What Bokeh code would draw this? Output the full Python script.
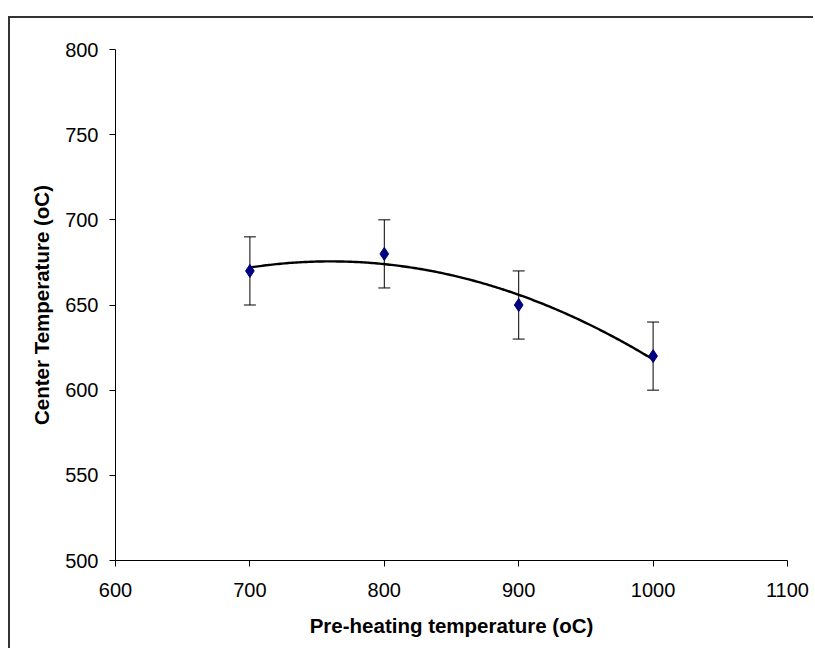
import numpy as np
from bokeh.plotting import figure
from bokeh.models import ColumnDataSource, Whisker, TeeHead, Spacer, FixedTicker
from bokeh.layouts import column, row
from bokeh.embed import file_html
from bokeh.resources import INLINE

# Data
preheat = [700, 800, 900, 1000]
center_temp = [670, 680, 650, 620]
err = [20, 20, 20, 20]
x_ticks = [600, 700, 800, 900, 1000, 1100]
y_ticks = [500, 550, 600, 650, 700, 750, 800]

upper = [v + e for v, e in zip(center_temp, err)]
lower = [v - e for v, e in zip(center_temp, err)]
src = ColumnDataSource(dict(x=preheat, y=center_temp, upper=upper, lower=lower))

# Polynomial (order 2) trendline fitted to the data, as in the original chart
coef = np.polyfit(preheat, center_temp, 2)
tx = np.linspace(min(preheat), max(preheat), 200)
ty = np.polyval(coef, tx)

p = figure(width=805, height=632, x_range=(600, 1100), y_range=(500, 800),
           output_backend="svg", toolbar_location=None,
           min_border_left=105, min_border_right=28,
           min_border_top=31, min_border_bottom=90)
p.styles = {"border-left": "2px solid #333333", "border-top": "2px solid #333333"}

p.xgrid.visible = False
p.ygrid.visible = False
p.outline_line_color = None
p.background_fill_color = "white"
p.border_fill_color = "white"

FONT = "Liberation Sans"
for ax in (p.xaxis[0], p.yaxis[0]):
    ax.axis_line_color = "black"
    ax.major_tick_line_color = "black"
    ax.minor_tick_line_color = None
    ax.major_tick_out = 6
    ax.major_tick_in = 0
    ax.major_label_text_font = FONT
    ax.major_label_text_font_size = "20px"
    ax.major_label_text_color = "black"
    ax.axis_label_text_font = FONT
    ax.axis_label_text_font_style = "bold"
    ax.axis_label_text_color = "black"
    ax.axis_label_text_font_size = "20.5px"

p.xaxis.ticker = FixedTicker(ticks=x_ticks)
p.yaxis.ticker = FixedTicker(ticks=y_ticks)
p.xaxis.axis_label = "Pre-heating temperature (oC)"
p.yaxis.axis_label = "Center Temperature (oC)"
p.xaxis.major_label_standoff = 16
p.yaxis.major_label_standoff = 11
p.xaxis.axis_label_standoff = 14
p.yaxis.axis_label_standoff = 9

p.add_layout(Whisker(base="x", upper="upper", lower="lower", source=src,
                     line_color="black", line_width=1,
                     upper_head=TeeHead(size=12, line_color="black", line_width=1),
                     lower_head=TeeHead(size=12, line_color="black", line_width=1)))

p.line(tx, ty, line_color="black", line_width=2.4)
p.scatter("x", "y", source=src, marker="diamond", size=13,
          fill_color="#000080", line_color="#000080")

layout = column(Spacer(height=16), row(Spacer(width=8), p))
open("out.html", "w").write(file_html(layout, INLINE))
